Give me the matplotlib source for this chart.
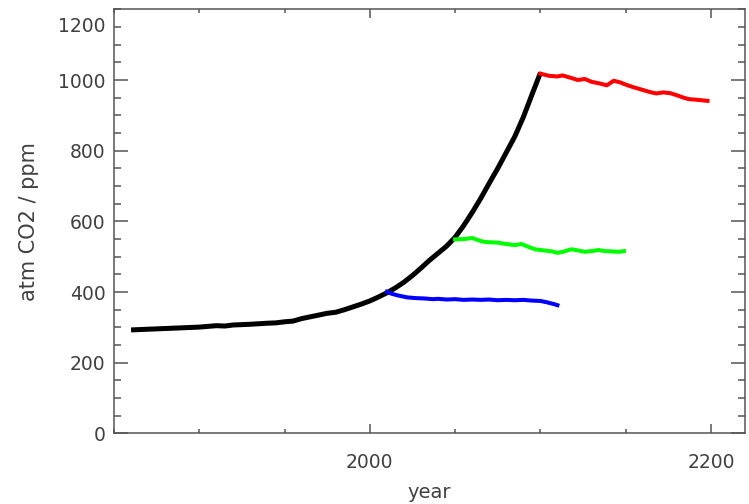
import numpy as np
import matplotlib.pyplot as plt
from matplotlib.ticker import MultipleLocator, FixedLocator

# historical + rising emissions (black)
hist_year = [1860, 1870, 1880, 1890, 1900, 1905, 1910, 1915, 1920, 1930, 1940, 1945,
             1950, 1955, 1960, 1965, 1970, 1975, 1980, 1985, 1990, 1995, 2000, 2005,
             2010, 2015, 2020, 2025, 2030, 2035, 2040, 2045, 2050, 2055, 2060, 2065,
             2070, 2075, 2080, 2085, 2090, 2095, 2100]
hist_co2 = [293, 295, 297, 299, 301, 303, 305, 304, 307, 309, 312, 313,
            316, 318, 325, 330, 335, 340, 343, 350, 358, 366, 375, 386,
            398, 412, 428, 447, 468, 490, 510, 530, 555, 588, 625, 665,
            708, 750, 795, 840, 895, 958, 1020]

# stabilisation scenarios
blue_year = [2010, 2013, 2017, 2022, 2027, 2032, 2037, 2040, 2045, 2050, 2055, 2060,
             2065, 2070, 2075, 2080, 2085, 2090, 2095, 2100, 2104, 2108, 2110]
blue_co2 = [401, 395, 390, 385, 383, 382, 380, 381, 379, 380, 378, 379,
            378, 379, 377, 378, 377, 378, 376, 375, 371, 366, 363]

green_year = [2050, 2055, 2060, 2063, 2066, 2070, 2075, 2080, 2085, 2089, 2093, 2097,
              2102, 2107, 2110, 2114, 2118, 2122, 2126, 2130, 2134, 2138, 2142, 2146, 2149]
green_co2 = [549, 550, 553, 548, 543, 541, 540, 536, 533, 536, 528, 521,
             518, 515, 511, 515, 521, 518, 514, 516, 519, 516, 515, 514, 516]

red_year = [2100, 2105, 2110, 2113, 2118, 2122, 2126, 2130, 2135, 2139, 2143, 2147,
            2150, 2155, 2160, 2165, 2168, 2172, 2176, 2180, 2184, 2187, 2192, 2198]
red_co2 = [1018, 1012, 1010, 1013, 1006, 1000, 1003, 995, 990, 985, 998, 993,
           987, 979, 972, 965, 962, 965, 963, 957, 950, 946, 944, 941]

txt = '#404040'
fs = 13.5
fig = plt.figure(figsize=(7.49, 5.04), dpi=100)
ax = fig.add_axes([0.1522, 0.1399, 0.8425, 0.8416])

ax.plot(hist_year, hist_co2, color='black', lw=3.6, solid_capstyle='butt')
ax.plot(blue_year, blue_co2, color='#0000ff', lw=2.9)
ax.plot(green_year, green_co2, color='#00ff00', lw=2.9)
ax.plot(red_year, red_co2, color='#ff0000', lw=2.9)

ax.set_xlim(1850, 2220)
ax.set_ylim(0, 1200)

ax.xaxis.set_major_locator(FixedLocator([2000, 2200]))
ax.xaxis.set_minor_locator(MultipleLocator(50))
ax.yaxis.set_major_locator(FixedLocator([0, 200, 400, 600, 800, 1000]))
ax.yaxis.set_minor_locator(MultipleLocator(50))

ax.tick_params(axis='both', which='both', direction='in', top=True, right=True,
               colors='#555555', labelcolor=txt, labelsize=fs, width=1.1)
ax.tick_params(axis='x', which='major', length=6.8, pad=14)
ax.tick_params(axis='x', which='minor', length=3)
ax.tick_params(axis='y', which='major', length=10, pad=6)
ax.tick_params(axis='y', which='minor', length=5)

# the original draws its "1200" label beside the 1150 tick
ax.annotate('1200', xy=(0, 1150), xycoords=('axes fraction', 'data'),
            xytext=(-6, 0), textcoords='offset points', ha='right', va='center',
            fontsize=fs, color=txt)

for s in ax.spines.values():
    s.set_color('#555555')
    s.set_linewidth(1.1)

ax.set_xlabel('year', fontsize=14, color=txt, labelpad=8)
ax.set_ylabel('atm CO2 / ppm', fontsize=15, color=txt, labelpad=14)

fig.savefig('out.png', dpi=100)
